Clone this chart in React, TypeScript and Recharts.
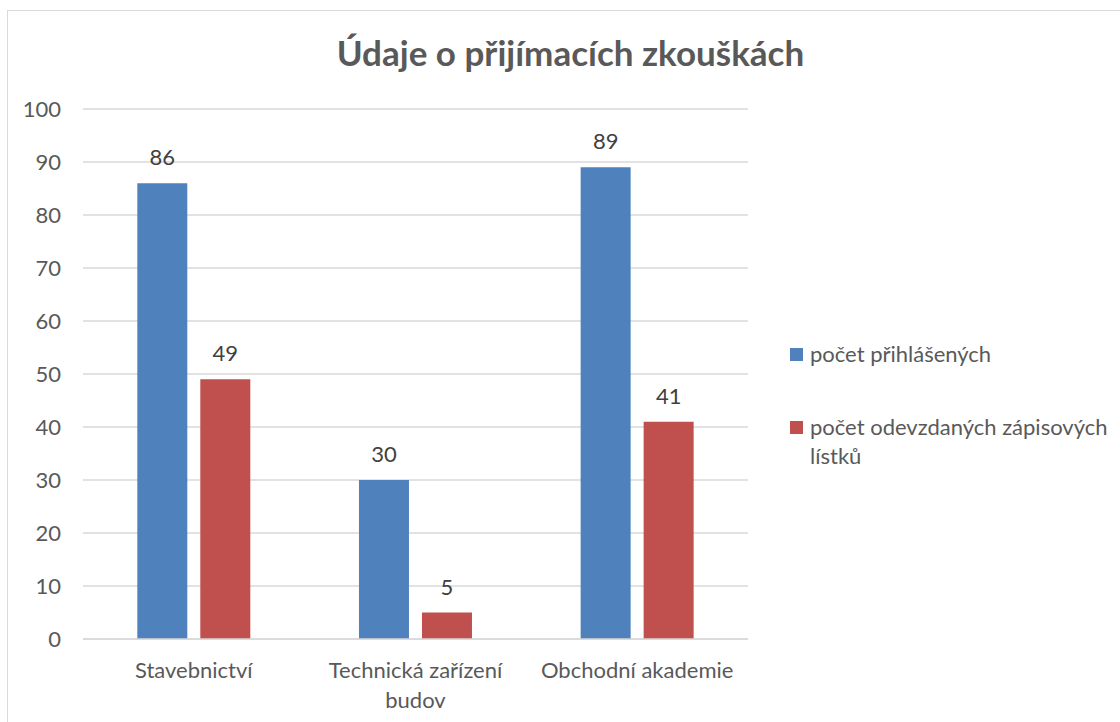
import React from "react";
import { BarChart, Bar, XAxis, YAxis, CartesianGrid, Legend, LabelList } from "recharts";

const categories = ["Stavebnictví", "Technická zařízení budov", "Obchodní akademie"];
const prihlaseni = [86, 30, 89];
const odevzdane = [49, 5, 41];
const yTicks = [0, 10, 20, 30, 40, 50, 60, 70, 80, 90, 100];
const seriesNames = ["počet přihlášených", "počet odevzdaných zápisových lístků"];
const title = "Údaje o přijímacích zkouškách";

const data = categories.map((c, i) => ({ name: c, a: prihlaseni[i], b: odevzdane[i] }));

const FONT = "Lato, 'Open Sans', sans-serif";
const BLUE = "#4f81bd";
const RED = "#c0504d";

const wrapWords = (s: string, maxChars: number) => {
  const words = s.split(" ");
  const lines: string[] = [];
  let cur = "";
  words.forEach((w) => {
    const next = cur ? cur + " " + w : w;
    if (next.length > maxChars && cur) {
      lines.push(cur);
      cur = w;
    } else {
      cur = next;
    }
  });
  if (cur) lines.push(cur);
  return lines;
};

const CatTick = (props: any) => {
  const { x, y, payload } = props;
  const lines = wrapWords(String(payload.value), 20);
  return (
    <text
      x={x}
      y={y + 39}
      textAnchor="middle"
      fill="#595959"
      style={{ fontFamily: FONT, fontSize: 22 }}
    >
      {lines.map((l, i) => (
        <tspan key={i} x={x} dy={i === 0 ? 0 : 30}>
          {l}
        </tspan>
      ))}
    </text>
  );
};

const LegendContent = (props: any) => {
  const payload = [...(props.payload || [])].sort(
    (p: any, q: any) => seriesNames.indexOf(p.value) - seriesNames.indexOf(q.value)
  );
  return (
    <div style={{ fontFamily: FONT, fontSize: 22, color: "#595959" }}>
      {payload.map((p: any, i: number) => (
        <div key={i} style={{ display: "flex", alignItems: "flex-start", marginBottom: i === 0 ? 44 : 0, width: 330 }}>
          <div style={{ width: 13, height: 13, background: p.color, marginTop: 9, marginRight: 7, flex: "none" }} />
          <div style={{ lineHeight: "29px", width: 305 }}>{p.value}</div>
        </div>
      ))}
    </div>
  );
};

export default function App() {
  return (
    <div
      style={{
        position: "fixed",
        left: 7,
        top: 10,
        width: 1113,
        height: 712,
        borderLeft: "1px solid #d9d9d9",
        borderTop: "1px solid #d9d9d9",
        background: "#fff",
      }}
    >
      <div
        style={{
          position: "absolute",
          left: 0,
          top: 20,
          width: 1125,
          textAlign: "center",
          fontFamily: FONT,
          fontWeight: 700,
          fontSize: 35,
          color: "#595959",
        }}
      >
        {title}
      </div>
      <BarChart
        width={1112}
        height={711}
        data={data}
        margin={{ top: 98, right: 372, left: 25, bottom: 23 }}
        barCategoryGap="24.5%"
        barGap={13}
      >
        <CartesianGrid vertical={false} stroke="#d9d9d9" strokeWidth={1.3} />
        <XAxis
          dataKey="name"
          axisLine={{ stroke: "#d9d9d9", strokeWidth: 1.3 }}
          tickLine={false}
          tickSize={0}
          tickMargin={0}
          height={60}
          interval={0}
          tick={<CatTick />}
        />
        <YAxis
          width={50}
          domain={[0, 100]}
          ticks={yTicks}
          axisLine={false}
          tickLine={false}
          tickSize={0}
          tickMargin={22}
          tick={{ fill: "#595959", fontSize: 22, fontFamily: FONT }}
        />
        <Legend
          layout="horizontal"
          verticalAlign="middle"
          align="center"
          wrapperStyle={{ left: 782, top: 328, width: 330 }}
          content={<LegendContent />}
        />
        <Bar dataKey="a" name={seriesNames[0]} fill={BLUE} isAnimationActive={false}>
          <LabelList dataKey="a" position="top" offset={18} fill="#404040" style={{ fontFamily: FONT, fontSize: 22 }} />
        </Bar>
        <Bar dataKey="b" name={seriesNames[1]} fill={RED} isAnimationActive={false}>
          <LabelList dataKey="b" position="top" offset={18} fill="#404040" style={{ fontFamily: FONT, fontSize: 22 }} />
        </Bar>
      </BarChart>
    </div>
  );
}
